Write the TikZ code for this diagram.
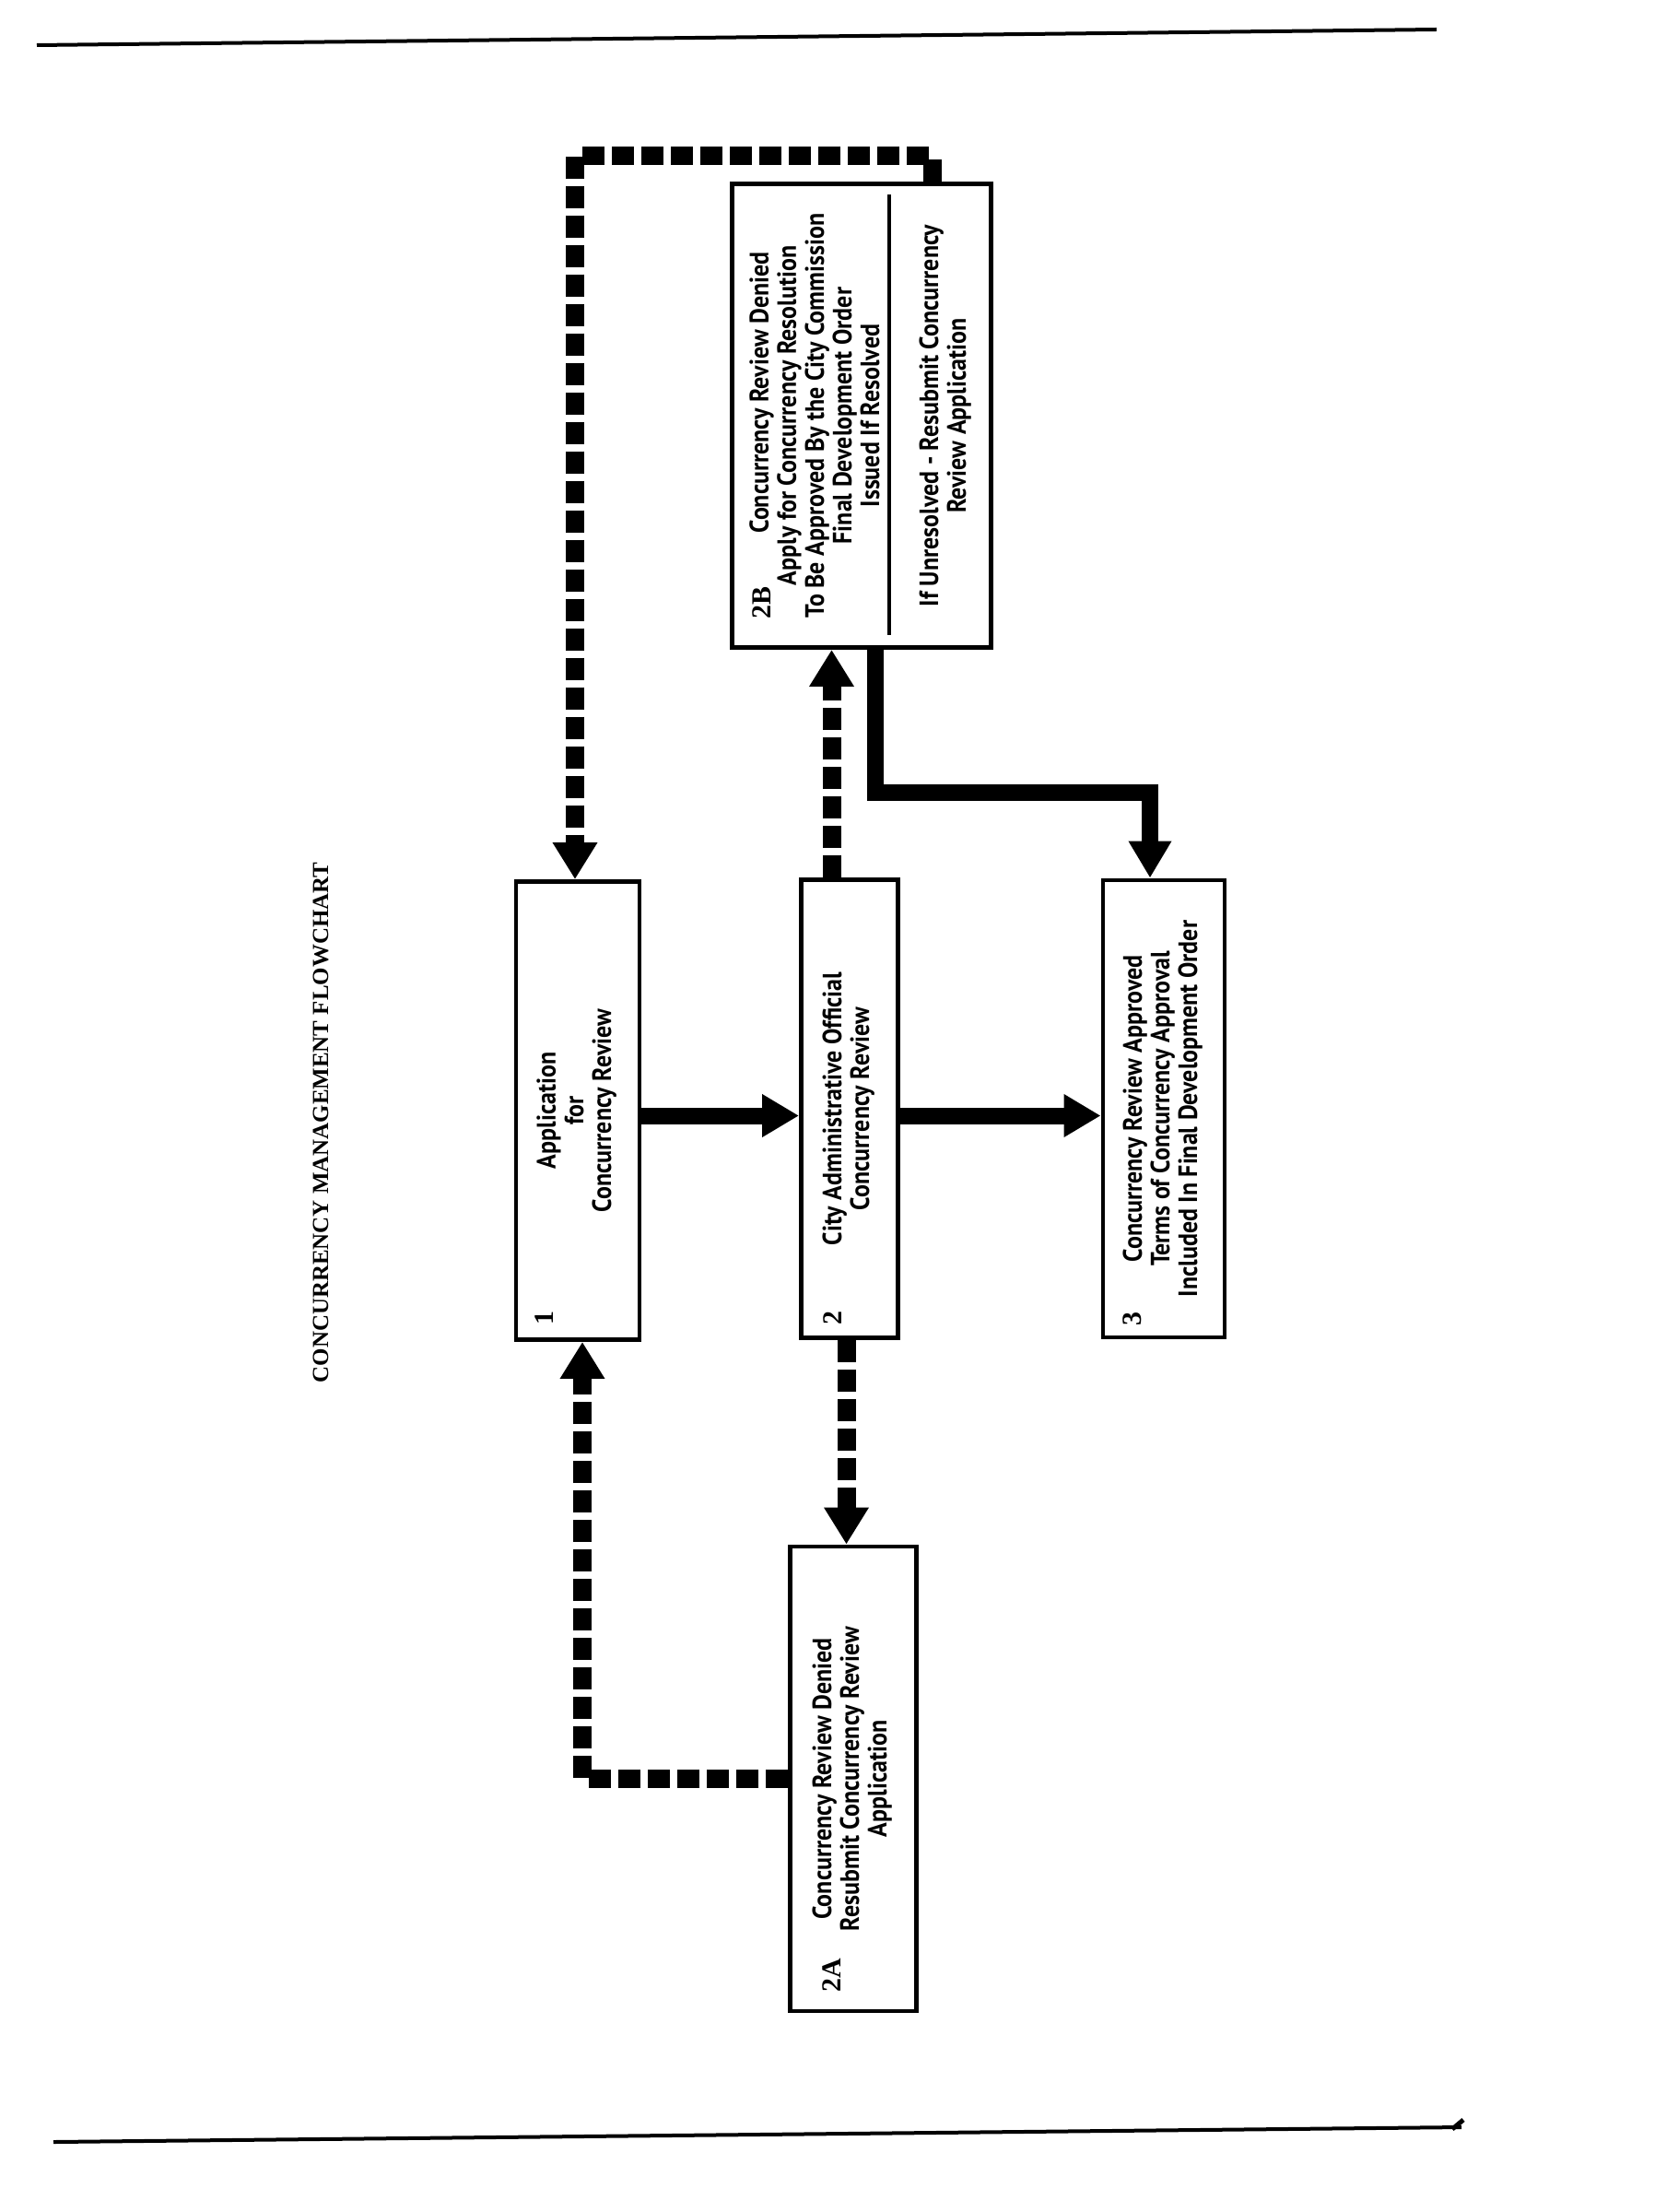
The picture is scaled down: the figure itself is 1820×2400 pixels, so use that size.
\documentclass[tikz,border=0pt]{standalone}
\usepackage{fontspec}
\setmainfont{Liberation Serif}
\setsansfont{PT Sans}[FakeStretch=0.9]
\usetikzlibrary{arrows.meta}

% text of a box, set sideways (reads bottom to top)
\newcommand{\vtext}[1]{\rotatebox{90}{\begin{tabular}{@{}c@{}}#1\end{tabular}}}

\tikzset{
  box/.style={draw, line width=1.4pt, fill=white, inner sep=0pt,
    font=\sffamily\bfseries\fontsize{8.2}{8.54}\selectfont},
  num/.style={rotate=90, inner sep=0pt, font=\rmfamily\bfseries\fontsize{8.5}{9}\selectfont},
  title/.style={rotate=90, inner sep=0pt, font=\rmfamily\bfseries\fontsize{7.1}{8}\selectfont},
  flow/.style={line width=1.8mm, -{Triangle[length=4mm,width=4.4mm]}},
  dashflow/.style={line width=2mm, dash pattern=on 2.4mm off 0.8mm,
    -{Triangle[length=4mm,width=4.6mm]}},
  rule/.style={line width=0.4mm}
}

\begin{document}
\begin{tikzpicture}[x=0.1mm,y=-0.1mm]
  \fill[white] (0,0) rectangle (1820,2400);
  \useasboundingbox (0,0) rectangle (1820,2400);

  % page rules
  \draw[rule] (40,49) -- (1559,32);
  \draw[rule] (58,2324) -- (1586,2308);
  \draw[line width=0.5mm] (1576,2310) -- (1588,2300);

  \node[title] (title) at (348,1218) {CONCURRENCY MANAGEMENT FLOWCHART};

  % boxes
  \node[box, minimum width=13.4mm, minimum height=49.7mm] (b1) at (627,1205)
    {\vtext{Application\\for\\Concurrency Review}};
  \node[box, minimum width=10.5mm, minimum height=49.7mm] (b2) at (922,1203)
    {\vtext{City Administrative Official\\Concurrency Review}};
  \node[box, minimum width=13.2mm, minimum height=49.6mm] (b3) at (1263,1203)
    {\vtext{Concurrency Review Approved\\Terms of Concurrency Approval\\Included In Final Development Order}};
  \node[box, minimum width=28.1mm, minimum height=50.3mm] (b2b) at (935,451)
    {\vtext{\hspace*{5mm}Concurrency Review Denied\\Apply for Concurrency Resolution\\To Be Approved By the City Commission\\Final Development Order\\Issued If Resolved\\[3.4mm]If Unresolved - Resubmit Concurrency\\Review Application}};
  \node[box, minimum width=13.7mm, minimum height=50.4mm] (b2a) at (926,1930)
    {\vtext{Concurrency Review Denied\\Resubmit Concurrency Review\\Application}};

  \node[num] (n1) at (591,1430) {1};
  \node[num] (n2) at (904,1430) {2};
  \node[num] (n3) at (1229,1431) {3};
  \node[num] (n2b) at (827,654) {2B};
  \node[num] (n2a) at (903,2143) {2A};

  \coordinate (sep) at (965,451);
  \draw[rule] ([yshift=-1.4mm]b2b.north -| sep) -- ([yshift=1.6mm]b2b.south -| sep);

  % connectors
  \draw[flow] ([yshift=-0.55mm]b1.east) -- ([yshift=-0.55mm]b1.east -| b2.west);
  \draw[flow] ([yshift=-0.75mm]b2.east) -- ([yshift=-0.75mm]b2.east -| b3.west);
  \draw[flow] ([xshift=1.45mm]b2b.south) -- ++(0,155) -| ([xshift=-1.5mm]b3.north);
  \draw[dashflow] ([xshift=-1.95mm]b2.north) -- ([xshift=-1.95mm]b2.north |- b2b.south);
  \draw[dashflow] ([xshift=-0.35mm]b2.south) -- ([xshift=-0.35mm]b2.south |- b2a.north);
  \draw[dashflow] (b2a.west) -| ([xshift=0.5mm]b1.south);
  \draw[dashflow] ([xshift=7.65mm]b2b.north) -- ++(0,-28) -| ([xshift=-0.3mm]b1.north);
\end{tikzpicture}
\end{document}
